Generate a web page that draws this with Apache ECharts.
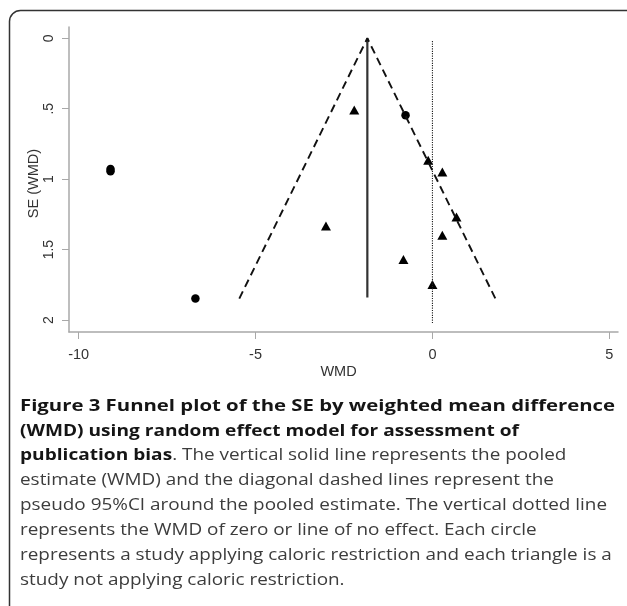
<!DOCTYPE html>
<html>
<head>
<meta charset="utf-8">
<script src="https://cdn.jsdelivr.net/npm/echarts@6/dist/echarts.min.js"></script>
<style>
html,body{margin:0;padding:0;background:#fff;}
#c{width:627px;height:606px;}
</style>
</head>
<body>
<div id="c"></div>
<script>
// ---- data ----
var circleWMD = [-9.1, -9.1, -6.7, -0.76];
var circleSE  = [0.928, 0.944, 1.848, 0.547];
var triangleWMD = [-2.21, -0.12, 0.28, 0.68, 0.28, -3.01, -0.82, 0.0];
var triangleSE  = [0.51, 0.865, 0.95, 1.268, 1.398, 1.332, 1.571, 1.748];
var pooledWMD = -1.84;
var pooledSE = [0, 1.84];
var funnelWMD = [-5.46, -1.84, 1.78];
var funnelSE  = [1.848, 0, 1.848];
var nullWMD = 0;
var nullSE = [0.02, 2.03];
var xTicks = [-10, -5, 0, 5];
var yTicks = [0, 0.5, 1, 1.5, 2];
var captionLines = [
  [{b:'Figure 3 Funnel plot of the SE by weighted mean difference'}],
  [{b:'(WMD) using random effect model for assessment of'}],
  [{b:'publication bias'},{n:'. The vertical solid line represents the pooled'}],
  [{n:'estimate (WMD) and the diagonal dashed lines represent the'}],
  [{n:'pseudo 95%CI around the pooled estimate. The vertical dotted line'}],
  [{n:'represents the WMD of zero or line of no effect. Each circle'}],
  [{n:'represents a study applying caloric restriction and each triangle is a'}],
  [{n:'study not applying caloric restriction.'}]
];

function zip(a, b) { return a.map(function (v, i) { return [v, b[i]]; }); }

var chart = echarts.init(document.getElementById('c'), null, {renderer: 'canvas'});
var axisGray = '#a8a8a8';
var capFont = 'Open Sans';
var capSize = 16.5;
var mctx = document.createElement('canvas').getContext('2d');
function measure(t, bold) {
  mctx.font = (bold ? 'bold ' : '') + capSize + 'px "' + capFont + '"';
  return mctx.measureText(t).width;
}
// horizontal stretch so the caption spans the same widths as in the figure
var scaleN = 587 / measure(captionLines[4][0].n, false);
var scaleB1 = 595 / measure(captionLines[0][0].b, true);
var scaleB = 499 / measure(captionLines[1][0].b, true);

var graphics = [{
  type: 'rect',
  shape: {x: 9.5, y: 10.5, width: 640, height: 620, r: 11},
  style: {fill: 'none', stroke: '#333', lineWidth: 1.5},
  silent: true
}];
var baseY = 410.3, lineH = 24.85, capX = 20;
captionLines.forEach(function (parts, i) {
  var x = capX;
  parts.forEach(function (p) {
    var bold = p.b !== undefined;
    var t = bold ? p.b : p.n;
    var sc = bold ? (i === 0 ? scaleB1 : scaleB) : scaleN;
    graphics.push({
      type: 'text',
      x: x,
      y: baseY + i * lineH + 4.2,
      scaleX: sc,
      style: {
        text: t,
        font: (bold ? 'bold ' : '') + capSize + 'px "' + capFont + '"',
        fill: bold ? '#151515' : '#3c3c3c',
        verticalAlign: 'bottom',
        align: 'left'
      },
      silent: true
    });
    x += measure(t, bold) * sc;
  });
});

var option = {
  animation: false,
  backgroundColor: '#fff',
  grid: {left: 69, right: 9, top: 27, bottom: 274},
  xAxis: {
    type: 'value', min: -10.274, max: 5.246,
    axisLine: {show: true, onZero: false, lineStyle: {color: axisGray, width: 1.5}},
    axisTick: {show: true, length: 7, customValues: xTicks, lineStyle: {color: axisGray, width: 1}},
    axisLabel: {customValues: xTicks, color: '#333', fontFamily: 'Liberation Sans', fontSize: 14.5, margin: 15,
      formatter: function (v) { return String(v); }},
    splitLine: {show: false},
    name: 'WMD', nameLocation: 'middle', nameGap: 32, nameMoveOverlap: false,
    nameTextStyle: {color: '#333', fontFamily: 'Liberation Sans', fontSize: 14.5, padding: [0, 10, 0, 0]}
  },
  yAxis: {
    type: 'value', inverse: true, min: -0.08, max: 2.085,
    axisLine: {show: true, onZero: false, lineStyle: {color: axisGray, width: 1.5}},
    axisTick: {show: true, length: 7, customValues: yTicks, lineStyle: {color: axisGray, width: 1}},
    axisLabel: {customValues: yTicks, rotate: 90, color: '#333', fontFamily: 'Liberation Sans', fontSize: 14, margin: 13,
      formatter: function (v) { return String(v).replace(/^0\./, '.'); }},
    splitLine: {show: false},
    name: 'SE (WMD)', nameLocation: 'middle', nameGap: 28, nameRotate: 90, nameMoveOverlap: false,
    nameTextStyle: {color: '#333', fontFamily: 'Liberation Sans', fontSize: 14.5, padding: [0, 8, 0, 0]}
  },
  series: [
    {type: 'line', data: zip([nullWMD, nullWMD], nullSE), showSymbol: false, silent: true,
      lineStyle: {color: '#222', width: 1.1, type: [1.2, 1.2]}},
    {type: 'line', data: zip([pooledWMD, pooledWMD], pooledSE), showSymbol: false, silent: true,
      lineStyle: {color: '#333', width: 2.2}},
    {type: 'line', data: zip(funnelWMD, funnelSE), showSymbol: false, silent: true,
      lineStyle: {color: '#111', width: 1.9, type: [8, 5]}},
    {type: 'scatter', data: zip(circleWMD, circleSE), symbol: 'circle', symbolSize: 8.5,
      itemStyle: {color: '#000', opacity: 1}},
    {type: 'scatter', data: zip(triangleWMD, triangleSE), symbol: 'triangle', symbolSize: [10, 9],
      itemStyle: {color: '#000', opacity: 1}}
  ],
  graphic: graphics
};
chart.setOption(option);
</script>
</body>
</html>
